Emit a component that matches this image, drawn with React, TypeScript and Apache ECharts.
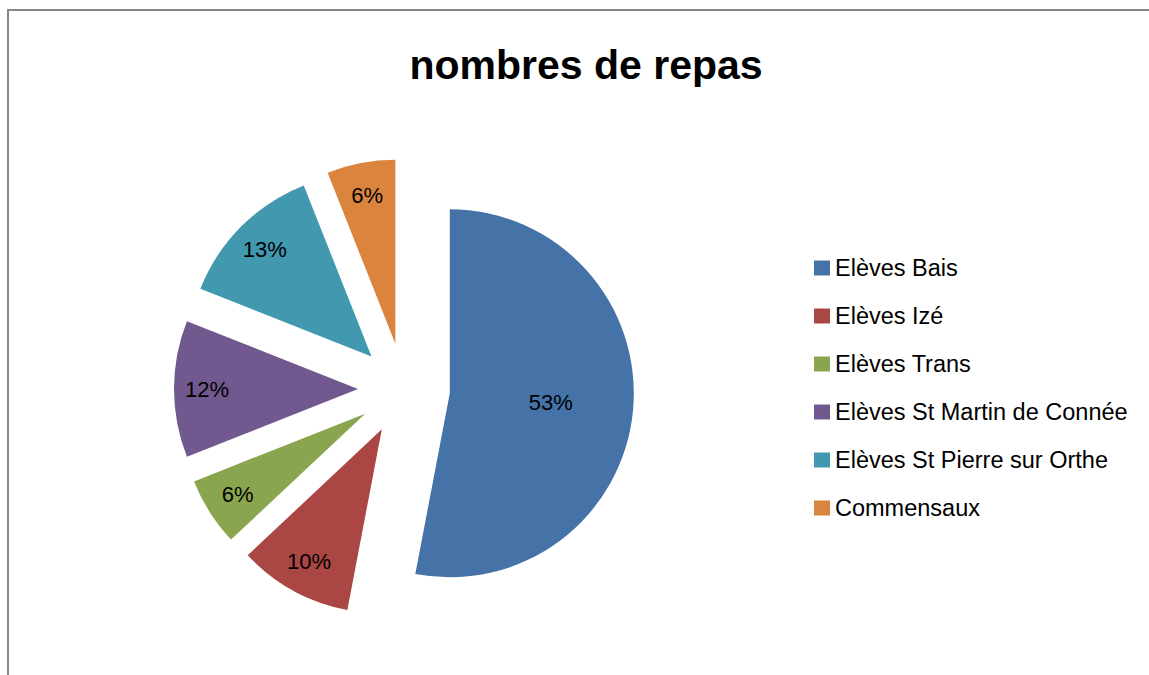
import React, { useEffect, useRef } from "react";
import * as echarts from "echarts";

const titleText = "nombres de repas";
const categories = [
  "Elèves Bais",
  "Elèves Izé",
  "Elèves Trans",
  "Elèves St Martin de Connée",
  "Elèves St Pierre sur Orthe",
  "Commensaux",
];
const values = [53, 10, 6, 12, 13, 6];
const colors = ["#4572A7", "#AA4643", "#89A54E", "#71588F", "#4198AF", "#DB843D"];

const CX = 404;
const CY = 389;
const R = 184;
const OFFSET = 46;
const FONT = "'Liberation Sans', Arial, sans-serif";

export default function App() {
  const ref = useRef<HTMLDivElement>(null);
  useEffect(() => {
    if (!ref.current) return;
    const chart = echarts.init(ref.current, null, { renderer: "svg" });
    const baseData = (labelFilter: (i: number) => boolean, transparent: boolean) =>
      categories.map((name, i) => ({
        name,
        value: values[i],
        selected: true,
        itemStyle: {
          color: transparent ? "rgba(0,0,0,0)" : colors[i],
          borderWidth: 0,
        },
        label: { show: labelFilter(i) },
      }));
    const common = {
      type: "pie" as const,
      center: [CX, CY],
      startAngle: 90,
      clockwise: true,
      selectedMode: "multiple" as const,
      selectedOffset: OFFSET,
      avoidLabelOverlap: false,
      emphasis: { disabled: true },
      labelLine: { show: false },
      label: {
        position: "inside" as const,
        formatter: (p: any) => Math.round(p.percent) + "%",
        color: "#000",
        fontFamily: FONT,
        fontSize: 22,
        fontWeight: "normal" as const,
      },
    };
    chart.setOption({
      animation: false,
      backgroundColor: "#fff",
      title: {
        text: titleText,
        left: 581,
        textAlign: "center",
        top: 39,
        textStyle: {
          fontFamily: FONT,
          fontSize: 41,
          fontWeight: "bold",
          color: "#000",
        },
      },
      legend: {
        orient: "vertical",
        left: 809,
        top: 251,
        data: categories,
        icon: "rect",
        itemWidth: 16,
        itemHeight: 15,
        itemGap: 24,
        selectedMode: false,
        textStyle: { fontFamily: FONT, fontSize: 23.5, color: "#000" },
      },
      color: colors,
      graphic: [
        {
          type: "rect",
          shape: { x: 8, y: 10, width: 1300, height: 900 },
          style: { fill: "none", stroke: "#868686", lineWidth: 2 },
          silent: true,
          z: -1,
        },
      ],
      series: [
        { ...common, name: "main", radius: [0, R], data: baseData(() => false, false) },
        {
          ...common,
          name: "labelsOuter",
          radius: [112, R],
          silent: true,
          data: baseData((i) => i !== 0, true),
        },
        {
          ...common,
          name: "labelsInner",
          radius: [13, R],
          silent: true,
          data: baseData((i) => i === 0, true),
        },
      ],
    });
    return () => chart.dispose();
  }, []);
  return (
    <div
      ref={ref}
      style={{ position: "absolute", left: 0, top: 0, width: 1149, height: 675 }}
    />
  );
}
